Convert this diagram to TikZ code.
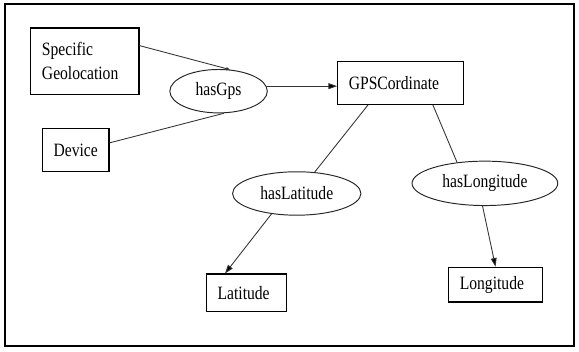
\documentclass[tikz,border=0pt]{standalone}
\usepackage{fontspec}
\setmainfont{Liberation Serif}[FakeStretch=0.83]
\usetikzlibrary{shapes.geometric, arrows.meta}

\begin{document}
\begin{tikzpicture}
	[x=1pt, y=-1pt, font=\fontsize{19.5}{25}\selectfont,
	 cls/.style={draw, line width=1.2pt, inner xsep=11.5pt, inner ysep=0pt, align=left},
	 prop/.style={draw=black!85, line width=1pt, ellipse, inner sep=0pt},
	 rel/.style={draw=black!80, line width=0.9pt},
	 tip/.style={-{Triangle[length=9pt,width=6pt]}}]
   \useasboundingbox (0,0) rectangle (600,364);
   \draw[line width=2pt] (5,4) rectangle (595,359);
   \node[cls, text width=89pt, minimum height=69pt] (geo) at (88,63.5) {Specific\\Geolocation};
   \node[cls, text width=46pt, minimum height=45pt] (device) at (78.5,155.5) {Device};
   \node[prop, minimum width=101pt, minimum height=45pt] (hasgps) at (226.5,94.5) {hasGps};
   \node[cls, text width=107pt, minimum height=44pt] (gpsc) at (415,86) {GPSCordinate};
   \node[prop, minimum width=133pt, minimum height=45pt] (haslat) at (307.5,200.5) {hasLatitude};
   \node[prop, minimum width=151pt, minimum height=46pt] (haslon) at (502.5,190) {hasLongitude};
   \node[cls, text width=60pt, minimum height=39pt] (lat) at (255.5,303.5) {Latitude};
   \node[cls, text width=74pt, minimum height=36pt] (lon) at (513.5,295) {Longitude};
    \path[rel]
    (geo.16) edge [-{Triangle[length=4pt,width=3pt]}] (hasgps.62)
    (device.12) edge (hasgps.284)
    (hasgps.6) edge [tip] (gpsc.west |- hasgps.6)
    (gpsc.214) edge (haslat.50)
    (gpsc.326) edge (haslon.143)
    (haslat.219) edge [tip] (lat.138)
    (haslon.264) edge [tip] (lon.north);
\end{tikzpicture}
\end{document}
